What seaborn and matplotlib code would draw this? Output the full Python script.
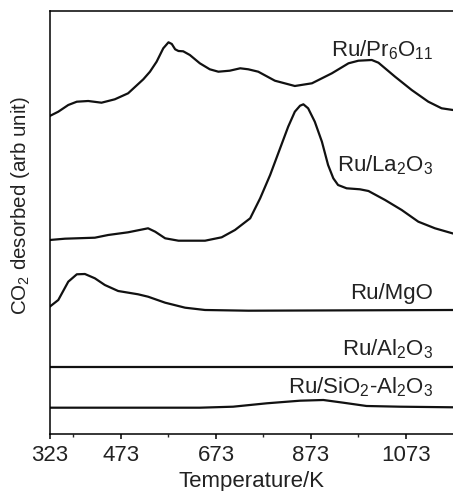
import numpy as np
import pandas as pd
import seaborn as sns
import matplotlib
matplotlib.use('Agg')
import matplotlib.pyplot as plt
from matplotlib.ticker import FixedLocator

# Temperature (K) and CO2 desorption signal (arb. unit)
pr_temp = [323, 341, 362, 380, 404, 432, 460, 488, 520, 534, 548, 562, 573,
           580, 587, 594, 604, 618, 639, 660, 678, 702, 724, 741, 762, 797,
           839, 875, 917, 952, 973, 1001, 1015, 1050, 1085, 1120, 1148, 1172]
pr_signal = [318, 322.3, 329, 332.3, 333, 331.3, 334.7, 340.7, 354.7, 362.3,
             372.3, 385.7, 391.7, 390, 384.7, 383, 382.7, 379, 370.7, 364.7,
             362.3, 363.3, 365.7, 364.7, 362.3, 353.3, 348, 350.7, 360.7,
             370.7, 373.3, 374, 371.3, 357.3, 344, 332.3, 325.7, 324]

la_temp = [323, 355, 418, 446, 488, 530, 545, 566, 594, 650, 685, 713, 745,
           766, 787, 808, 825, 839, 850, 857, 867, 881, 896, 909, 920, 930,
           948, 976, 994, 1029, 1064, 1099, 1134, 1172]
la_signal = [194, 195.3, 196.3, 199, 201.7, 205.7, 202.3, 195.7, 193.3, 193.3,
             196.7, 204, 215.7, 235.7, 259, 285.7, 307.3, 322.3, 328.3, 329.7,
             325.7, 312.3, 292.3, 269, 255.7, 249, 245.7, 244.7, 243, 234,
             224, 212.3, 205.7, 200.5]

mg_temp = [323, 341, 362, 380, 397, 418, 439, 467, 509, 530, 566, 608, 650,
           741, 1172]
mg_signal = [127.3, 134, 152.3, 159.7, 160, 155.7, 149, 143, 139.7, 137.3,
             131.3, 126.3, 124, 123.3, 124]

al_temp = [323, 1172]
al_signal = [67.3, 67.3]

si_temp = [323, 639, 709, 780, 850, 899, 941, 990, 1060, 1172]
si_signal = [26.3, 26.3, 27.3, 30.7, 33.3, 34, 31.3, 28, 27.3, 26.7]

labels = [r'Ru/Pr$_6$O$_{11}$', r'Ru/La$_2$O$_3$', 'Ru/MgO',
          r'Ru/Al$_2$O$_3$', r'Ru/SiO$_2$-Al$_2$O$_3$']
label_y = [377.3, 263, 134.7, 79, 40.7]

major_ticks = [323, 473, 673, 873, 1073]
minor_ticks = [373, 573, 773, 973, 1173]

sns.set_theme(style='ticks')
plt.rcParams['font.family'] = ['Liberation Sans', 'DejaVu Sans']
plt.rcParams['mathtext.fontset'] = 'custom'
plt.rcParams['mathtext.rm'] = 'Liberation Sans'
plt.rcParams['mathtext.default'] = 'regular'

fig = plt.figure(figsize=(4.53, 4.91), dpi=100)
ax = fig.add_axes([0.1098, 0.1161, 0.8902, 0.8615])

series = [(pr_temp, pr_signal), (la_temp, la_signal), (mg_temp, mg_signal),
          (al_temp, al_signal), (si_temp, si_signal)]
for temp, signal in series:
    df = pd.DataFrame({'T': temp, 'S': signal})
    sns.lineplot(data=df, x='T', y='S', color='#111111', linewidth=1.6,
                 sort=False, estimator=None, ax=ax,
                 solid_joinstyle='round', solid_capstyle='round')

for text, y in zip(labels, label_y):
    ax.text(1130, y, text, ha='right', va='baseline', fontsize=16,
            color='#222222')

ax.set_xlim(323, 1172)
ax.set_ylim(0, 423)
ax.xaxis.set_major_locator(FixedLocator(major_ticks))
ax.xaxis.set_minor_locator(FixedLocator(minor_ticks))
ax.set_yticks([])
ax.tick_params(axis='x', which='major', length=3.8, width=1.1,
               labelsize=16, pad=4, direction='out', colors='black',
               labelcolor='#222222')
ax.tick_params(axis='x', which='minor', length=2.2, width=1.0,
               direction='out')
ax.spines['right'].set_visible(False)
for side in ['left', 'top', 'bottom']:
    ax.spines[side].set_linewidth(1.1)
    ax.spines[side].set_color('black')

ax.set_xlabel('Temperature/K', fontsize=16, labelpad=4, color='#222222')
ax.set_ylabel(r'CO$_2$ desorbed (arb unit)', fontsize=14.8, color='#222222')
ax.yaxis.set_label_coords(-0.044, 0.54)

fig.savefig('out.png', dpi=100)
